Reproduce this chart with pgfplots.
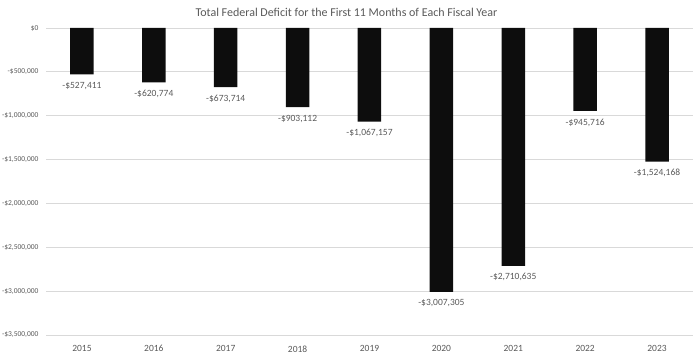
\documentclass[border=0pt]{standalone}
\usepackage{pgfplots}
\pgfplotsset{compat=1.18}
\usepackage{fontspec}
\setmainfont{Carlito}
\definecolor{txt}{HTML}{595959}
\definecolor{gridc}{HTML}{D9D9D9}
\definecolor{barc}{HTML}{0D0D0D}
\begin{document}
\begin{tikzpicture}
\begin{axis}[
  at={(46bp,24bp)}, anchor=south west,
  scale only axis, width=647bp, height=307bp,
  xmin=-0.5, xmax=8.5, ymin=-3500000, ymax=0,
  axis line style={draw=none},
  major tick length=0pt,
  xtick={0,...,8},
  xticklabels={2015,2016,2017,2018,2019,2020,2021,2022,2023},
  ytick={-3500000,-3000000,-2500000,-2000000,-1500000,-1000000,-500000,0},
  yticklabels={{-\$3,500,000},{-\$3,000,000},{-\$2,500,000},{-\$2,000,000},{-\$1,500,000},{-\$1,000,000},{-\$500,000},{\$0}},
  ymajorgrids=true, xmajorgrids=false,
  major grid style={draw=gridc, line width=0.75bp},
  x tick label style={font=\fontsize{9.5bp}{11bp}\selectfont, text=txt, yshift=-7bp},
  y tick label style={font=\fontsize{7.5bp}{9bp}\selectfont, text=txt, xshift=-4bp},
  scaled y ticks=false,
  point meta=explicit symbolic,
  nodes near coords,
  every node near coord/.append style={font=\fontsize{9.5bp}{11bp}\selectfont, text=txt, anchor=center, yshift=-11.5bp, inner sep=0pt},
]
\addplot[ybar, bar width=23.5bp, fill=barc, draw=none] coordinates {
  (0,-527411) [-\$527,411]
  (1,-620774) [-\$620,774]
  (2,-673714) [-\$673,714]
  (3,-903112) [-\$903,112]
  (4,-1067157) [-\$1,067,157]
  (5,-3007305) [-\$3,007,305]
  (6,-2710635) [-\$2,710,635]
  (7,-945716) [-\$945,716]
  (8,-1524168) [-\$1,524,168]
};
\end{axis}
\node[font=\fontsize{12bp}{14bp}\selectfont, text=txt] at (346.5bp,347bp) {Total Federal Deficit for the First 11 Months of Each Fiscal Year};
\pgfresetboundingbox
\useasboundingbox (0,0) rectangle (693bp,359bp);
\end{tikzpicture}
\end{document}
